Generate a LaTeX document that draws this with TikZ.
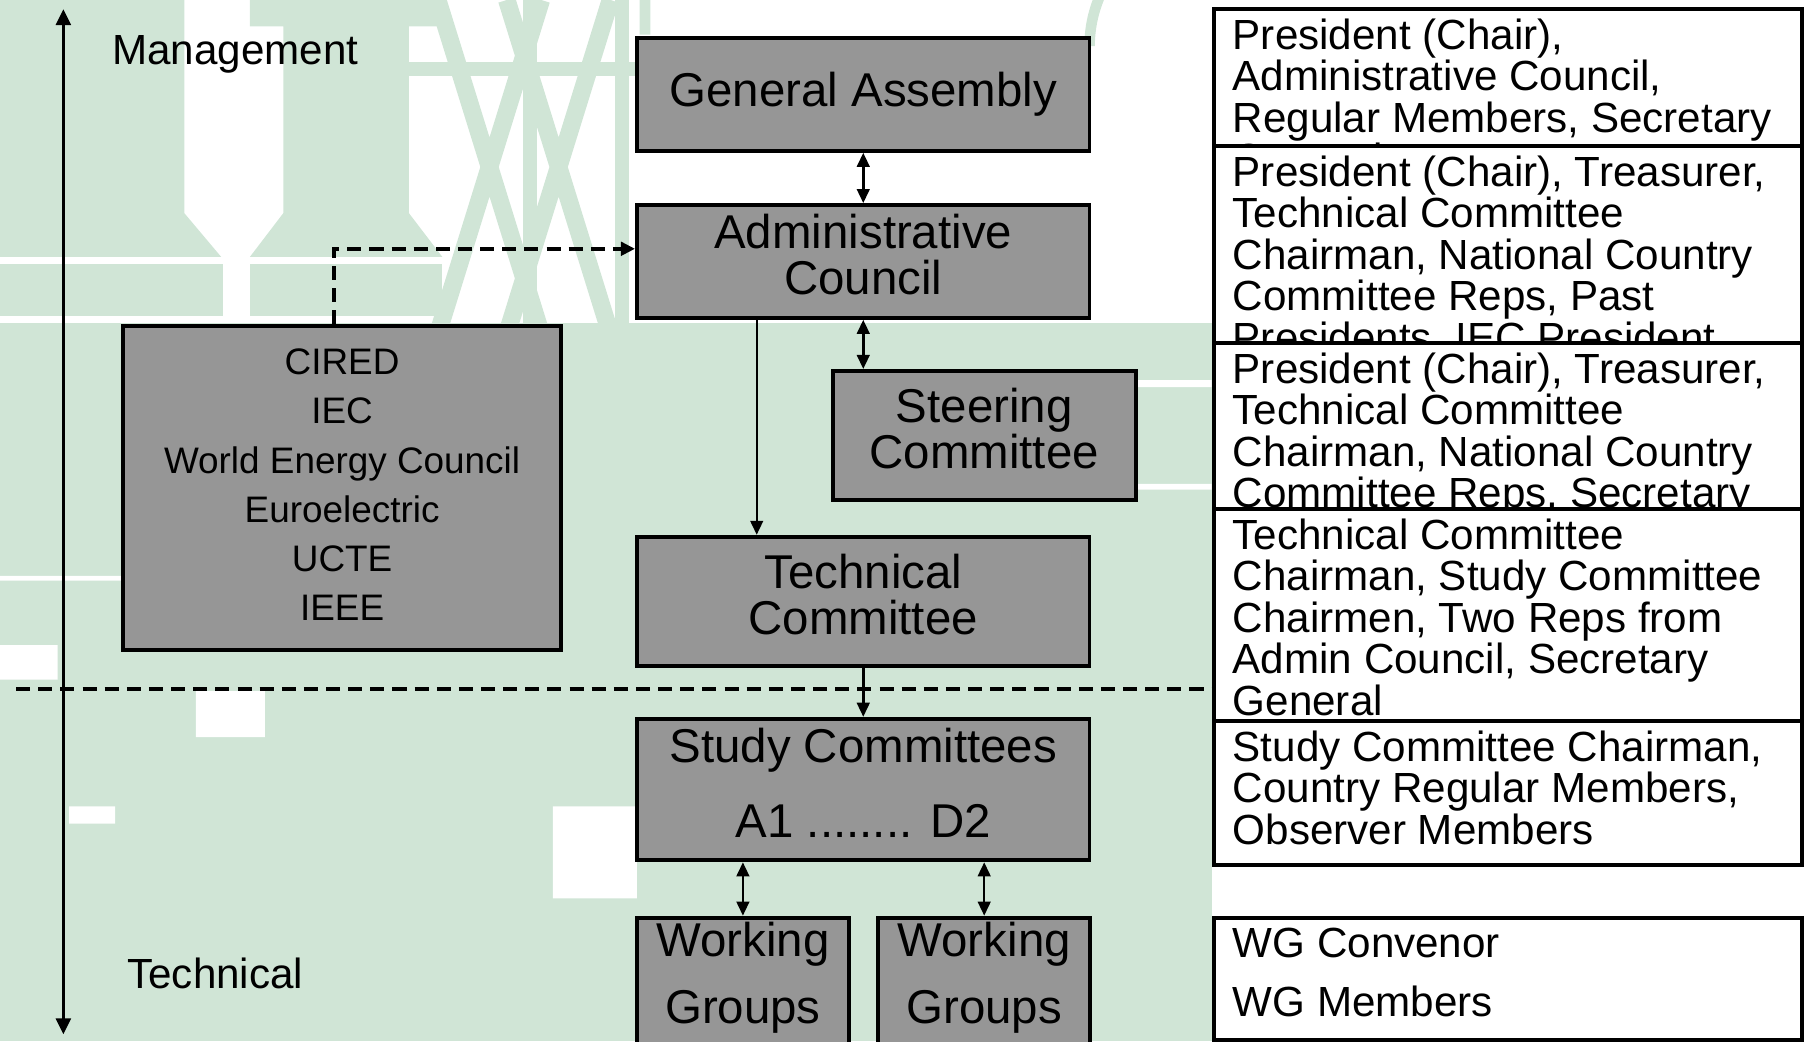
\documentclass[tikz,border=0pt]{standalone}
\usepackage{fontspec}
\setmainfont{Liberation Sans}
\usetikzlibrary{positioning,calc,arrows.meta}
\definecolor{boxgray}{RGB}{150,150,150}
\definecolor{bggreen}{RGB}{208,229,214}
\newcommand{\pxl}{0.32772pt}

\begin{document}
\begin{tikzpicture}[x=0.011518cm,y=-0.011518cm,
    box/.style={draw,line width=1.1pt,fill=boxgray,inner sep=0pt,align=center,font=\fontsize{13.5}{13}\selectfont},
    orgbox/.style={box,font=\fontsize{10.5}{14}\selectfont},
    rbox/.style={draw,line width=1.1pt,fill=white,inner sep=0pt,anchor=north west,minimum width=511*\pxl},
    rtext/.style={draw=none,fill=none,minimum width=0pt,minimum height=0pt,anchor=north west,align=left,inner sep=0pt,font=\fontsize{12}{11.8}\selectfont},
    side/.style={anchor=west,inner sep=0pt,font=\fontsize{12}{12}\selectfont},
    arr/.style={-{Triangle[length=4pt,width=3.6pt]},line width=0.7pt},
    dbl/.style={{Triangle[length=4pt,width=3.6pt]}-{Triangle[length=4pt,width=3.6pt]},line width=0.7pt},
    dsh/.style={dash pattern=on 4pt off 2.3pt,line width=1.1pt}]
    \useasboundingbox(0,0)rectangle(1568,904);
    % background
    \fill[bggreen](0,0)--(160,0)--(160,185)--(192,223)--(0,223)--cycle;
    \fill[bggreen](0,229)--(194,229)--(194,274)--(0,274)--cycle;
    \fill[bggreen](217,0)--(384,0)--(384,23)--(355,23)--(355,185)--(384,223)--(217,223)--(246,185)--(246,23)--(217,23)--cycle;
    \fill[bggreen](217,229)--(384,229)--(384,274)--(217,274)--cycle;
    \draw[bggreen,line width=5pt](380,0)--(470,290)(470,0)--(380,290)(440,0)--(530,290)(530,0)--(440,290);
    \draw[bggreen,line width=4pt](354,60)--(560,60)(460,0)--(460,290)(540,0)--(540,290);
    \draw[bggreen,line width=3pt](560,0)--(560,30)(946,40)arc(180:250:110);
    \fill[bggreen](0,280)rectangle(1052,904);
    \fill[white](0,560)rectangle(50,590)(170,600)rectangle(230,640)(480,700)rectangle(553,780)
        (270,383)rectangle(480,390)(270,398)rectangle(470,404)(0,500)rectangle(190,504)(60,700)rectangle(100,715);
    \fill[white](946,250)rectangle(1052,258)(946,330)rectangle(1052,336)(946,420)rectangle(1052,425);
    % left axis
    \coordinate(axt)at(55,8);
    \coordinate(axb)at(55,898);
    \draw[line width=0.8pt,{Triangle[length=4.5pt,width=4.2pt]}-{Triangle[length=4.5pt,width=4.2pt]}](axt)--(axb);
    \node[side](mng)at(97,47){Management};
    \node[side](tec)at(110,845){Technical};
    % management line
    \coordinate(dl)at(14,598);
    \coordinate(cj)at(290,216);
    \coordinate(acx)at(657,0);
    % boxes
    \node[box,minimum width=393*\pxl,minimum height=98*\pxl](ga)at(749.5,82){General Assembly};
    \node[box,minimum width=393*\pxl,minimum height=98*\pxl](ac)at(749.5,227){\begin{tabular}{@{}c@{}}Administrative\\[-0.5pt]Council\end{tabular}};
    \node[box,minimum width=263*\pxl,minimum height=112*\pxl](stc)at(854.5,378){\begin{tabular}{@{}c@{}}Steering\\[-0.5pt]Committee\end{tabular}};
    \node[box,minimum width=393*\pxl,minimum height=112*\pxl](tc)at(749.5,522){\begin{tabular}{@{}c@{}}Technical\\[-0.5pt]Committee\end{tabular}};
    \node[box,minimum width=393*\pxl,minimum height=123*\pxl](sc)at(749.5,685.5){\begin{tabular}{@{}c@{}}Study Committees\\[8pt]A1 ........ D2\end{tabular}};
    \node[box,minimum width=184*\pxl,minimum height=130*\pxl,anchor=north](wg1)at(645,795){\raisebox{0pt}[0pt][0pt]{\begin{tabular}{@{}c@{}}Working\\[5.7pt]Groups\end{tabular}}};
    \node[box,minimum width=184*\pxl,minimum height=130*\pxl,anchor=north](wg2)at(854.5,795){\raisebox{0pt}[0pt][0pt]{\begin{tabular}{@{}c@{}}Working\\[5.7pt]Groups\end{tabular}}};
    \node[orgbox,minimum width=380*\pxl,minimum height=281*\pxl](org)at(297,423.5){\begin{tabular}{@{}c@{}}CIRED\\IEC\\World Energy Council\\Euroelectric\\UCTE\\IEEE\end{tabular}};
    % members
    \node[rbox,minimum height=119*\pxl,path picture={\node[rtext](rt1)at([xshift=15*\pxl,yshift=-7*\pxl]path picture bounding box.north west){President (Chair),\\Administrative Council,\\Regular Members, Secretary\\General};}](rb1)at(1052,6){};
    \node[rbox,minimum height=171*\pxl,path picture={\node[rtext](rt2)at([xshift=15*\pxl,yshift=-7*\pxl]path picture bounding box.north west){President (Chair), Treasurer,\\Technical Committee\\Chairman, National Country\\Committee Reps, Past\\Presidents, IEC President};}](rb2)at(1052,125){};
    \node[rbox,minimum height=144*\pxl,path picture={\node[rtext](rt3)at([xshift=15*\pxl,yshift=-7*\pxl]path picture bounding box.north west){President (Chair), Treasurer,\\Technical Committee\\Chairman, National Country\\Committee Reps, Secretary\\General};}](rb3)at(1052,296){};
    \node[rbox,minimum height=184*\pxl,path picture={\node[rtext](rt4)at([xshift=15*\pxl,yshift=-7*\pxl]path picture bounding box.north west){Technical Committee\\Chairman, Study Committee\\Chairmen, Two Reps from\\Admin Council, Secretary\\General};}](rb4)at(1052,440){};
    \node[rbox,minimum height=125*\pxl,path picture={\node[rtext](rt5)at([xshift=15*\pxl,yshift=-7*\pxl]path picture bounding box.north west){Study Committee Chairman,\\Country Regular Members,\\Observer Members};}](rb5)at(1052,624){};
    \node[rbox,minimum height=106*\pxl,path picture={\node[rtext](rt6)at([xshift=15*\pxl,yshift=-7*\pxl]path picture bounding box.north west){WG Convenor\\[5.2pt]WG Members};}](rb6)at(1052,795){};
    % connectors
    \draw[dsh](dl)--(dl-|rb4.west);
    \draw[dsh,-{Triangle[length=4pt,width=3.8pt]}](org.north-|cj)|-(ac.west|-cj);
    \draw[dbl](ga)--(ac);
    \draw[dbl](ac.south)--(ac.south|-stc.north);
    \draw[arr](ac.south-|acx)--(tc.north-|acx);
    \draw[arr](tc)--(sc);
    \draw[dbl](sc.south-|wg1)--(wg1.north);
    \draw[dbl](sc.south-|wg2)--(wg2.north);
\end{tikzpicture}
\end{document}
